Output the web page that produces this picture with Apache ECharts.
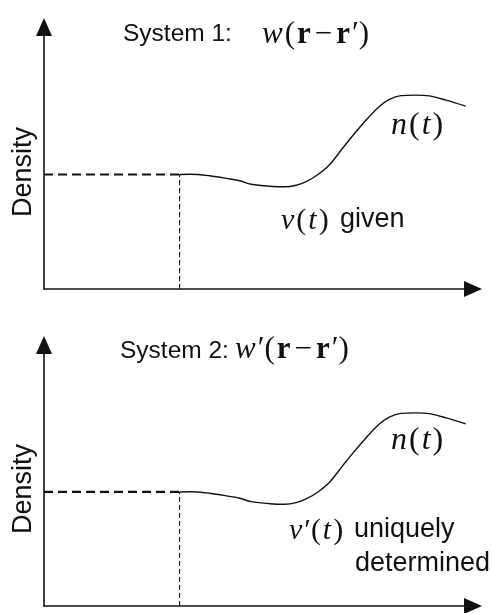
<!DOCTYPE html>
<html>
<head>
<meta charset="utf-8">
<title>Density n(t) for two systems</title>
<script src="https://cdn.jsdelivr.net/npm/echarts@6/dist/echarts.min.js"></script>
<style>
  html, body { margin: 0; padding: 0; background: #fff; }
  #chart { width: 492px; height: 613px; }
</style>
</head>
<body>
<div id="chart"></div>
<script>
// Time samples (arbitrary units, 0..10) and the density n(t) along the curve
const timePoints = [3.16, 3.40, 3.86, 4.33, 4.56, 4.83, 5.26, 5.61, 5.88, 6.11, 6.37, 6.65, 6.96, 7.19, 7.51, 7.81, 8.05, 8.32, 8.67, 8.98, 9.37, 9.83];
const densityValues = [4.37, 4.38, 4.32, 4.20, 4.13, 4.00, 3.92, 3.90, 3.96, 4.10, 4.35, 4.73, 5.37, 5.84, 6.45, 6.96, 7.24, 7.38, 7.40, 7.37, 7.21, 6.98];
// Initial time t0 and the initial density n(t0)
const startTime = 3.16;
const startDensity = 4.37;
const axisRange = [0, 10];

const curve = timePoints.map((t, i) => [t, densityValues[i]]);
const levelLine = [[axisRange[0], startDensity], [startTime, startDensity]];
const dropLine = [[startTime, axisRange[0]], [startTime, startDensity]];

const INK = '#111111';
const SANS = 'Liberation Sans, Arial, Helvetica, sans-serif';
const SERIF = 'Liberation Serif, Times New Roman, DejaVu Serif, serif';

const grids = [
  { left: 44, top: 27, width: 429, height: 262 },
  { left: 44, top: 345, width: 429, height: 261 }
];

function axisBase(idx) {
  return {
    type: 'value', gridIndex: idx, min: axisRange[0], max: axisRange[1],
    axisLine: { show: true, symbol: ['none', 'triangle'], symbolSize: [16, 18],
                lineStyle: { color: INK, width: 1.6 } },
    axisTick: { show: false }, axisLabel: { show: false }, splitLine: { show: false }
  };
}

function panelSeries(idx) {
  return [
    { type: 'line', xAxisIndex: idx, yAxisIndex: idx, data: levelLine, symbol: 'none',
      lineStyle: { color: INK, width: 2.2, type: [9, 5] }, silent: true },
    { type: 'line', xAxisIndex: idx, yAxisIndex: idx, data: dropLine, symbol: 'none',
      lineStyle: { color: INK, width: 1.1, type: [5, 3] }, silent: true },
    { type: 'line', xAxisIndex: idx, yAxisIndex: idx, data: curve, symbol: 'none', smooth: 0.35,
      lineStyle: { color: INK, width: 1.4 }, silent: true }
  ];
}

// math-style rich text tokens (italic symbols, bold vectors, upright brackets)
const mathRich = (size) => ({
  i: { fontFamily: SERIF, fontStyle: 'italic', fontSize: size, fill: INK, color: INK },
  b: { fontFamily: SERIF, fontWeight: 'bold', fontSize: size, fill: INK, color: INK },
  p: { fontFamily: SERIF, fontSize: size, fill: INK, color: INK, padding: [0, 2] },
  m: { fontFamily: SERIF, fontSize: size, fill: INK, color: INK, padding: [0, 4] }
});

function txt(x, y, text, size, extra) {
  return Object.assign({
    type: 'text', x: x, y: y, silent: true,
    style: Object.assign({ text: text, fill: INK, font: size + 'px ' + SANS,
                           verticalAlign: 'middle', align: 'left' }, extra || {})
  });
}
function mathTxt(x, y, text, size, align) {
  return {
    type: 'text', x: x, y: y, silent: true,
    style: { text: text, fill: INK, fontFamily: SERIF, fontSize: size,
             verticalAlign: 'middle', align: align || 'left', rich: mathRich(size) }
  };
}

const graphics = [
  // System 1
  txt(123, 34, 'System 1:', 24.5),
  mathTxt(262, 35, '{i|w}{p|(}{b|r}{m|−}{b|r}{p|′)}', 31),
  txt(24, 172, 'Density', 27, { align: 'center' }),
  mathTxt(391, 126, '{i|n}{p|(}{i|t}{p|)}', 32),
  mathTxt(281, 221, '{i|v}{p|(}{i|t}{p|)}', 30),
  txt(340, 220, 'given', 27),
  // System 2
  txt(120, 351, 'System 2:', 24.5),
  mathTxt(235, 350, '{i|w}{p|′(}{b|r}{m|−}{b|r}{p|′)}', 31),
  txt(24, 489, 'Density', 27, { align: 'center' }),
  mathTxt(391, 441, '{i|n}{p|(}{i|t}{p|)}', 32),
  mathTxt(289, 531, '{i|v}{p|′(}{i|t}{p|)}', 30),
  txt(354, 530, 'uniquely', 27),
  txt(490, 564, 'determined', 27, { align: 'right' })
];
// rotate the two axis titles to read bottom-to-top
graphics[2].rotation = Math.PI / 2;
graphics[8].rotation = Math.PI / 2;

const chart = echarts.init(document.getElementById('chart'), null, { renderer: 'canvas' });
chart.setOption({
  animation: false,
  backgroundColor: '#ffffff',
  grid: grids,
  xAxis: [axisBase(0), axisBase(1)],
  yAxis: [axisBase(0), axisBase(1)],
  series: panelSeries(0).concat(panelSeries(1)),
  graphic: graphics
});
</script>
</body>
</html>
